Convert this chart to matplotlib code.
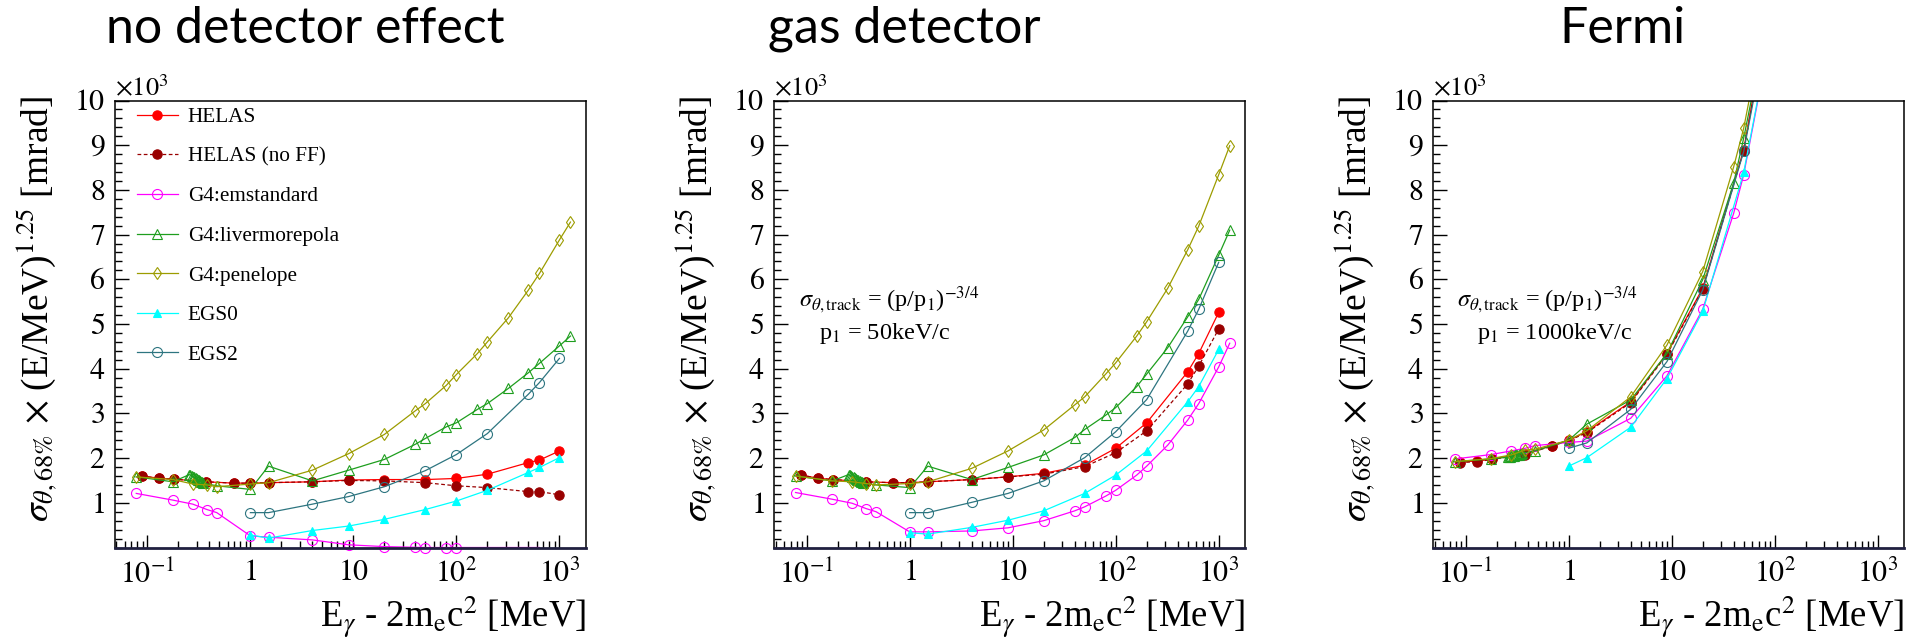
import matplotlib
matplotlib.use('Agg')
import matplotlib.pyplot as plt
import numpy as np
from matplotlib.lines import Line2D
from matplotlib.ticker import FixedLocator, FixedFormatter, LogLocator, MultipleLocator, NullFormatter

plt.rcParams['font.family'] = ['Liberation Serif', 'DejaVu Serif']
plt.rcParams['mathtext.fontset'] = 'stix'

# photon energy E_gamma - 2 m_e c^2 [MeV]
e_helas = [0.088, 0.129, 0.18, 0.373, 0.69, 1, 1.5, 4, 9, 20, 50, 100, 200, 500, 640, 1000]
e_g4 = [0.078, 0.177, 0.276, 0.378, 0.472, 1, 1.5, 4, 9, 20, 40, 50, 80, 100,
        160, 200, 320, 500, 640, 1000, 1280]
e_liv = [0.078, 0.177, 0.255, 0.262, 0.27, 0.278, 0.286, 0.294, 0.302, 0.31, 0.318, 0.326,
         0.334, 0.342, 0.35, 0.472, 1, 1.5, 4, 9, 20, 40, 50, 80, 100, 160, 200, 320, 500,
         640, 1000, 1280]
e_egs = [1, 1.5, 4, 9, 20, 50, 100, 200, 500, 640, 1000]

titles = ['no detector effect', 'gas detector', 'Fermi']
track_p1 = [None, '50keV/c', '1000keV/c']

# sigma_68% x (E/MeV)^1.25 in units of 10^3 mrad
# -- no detector effect
helas_1 = [1.60, 1.55, 1.53, 1.47, 1.44, 1.44, 1.45, 1.47, 1.51, 1.52, 1.52, 1.545, 1.64, 1.90, 1.955, 2.16]
noff_1 = [1.60, 1.55, 1.53, 1.47, 1.44, 1.44, 1.45, 1.47, 1.50, 1.49, 1.45, 1.38, 1.34, 1.25, 1.25, 1.18]
emstd_1 = [1.21, 1.06, 0.97, 0.85, 0.78, 0.26, 0.23, 0.17, 0.06, 0.02, 0.005, 0.0, 0.0, 0.0,
           -0.1, -0.2, -0.3, -0.4, -0.5]
liver_1 = [1.58, 1.47, 1.63, 1.62, 1.60, 1.58, 1.57, 1.55, 1.53, 1.52, 1.50, 1.49, 1.47, 1.46,
           1.44, 1.38, 1.30, 1.82, 1.49, 1.73, 1.97, 2.31, 2.44, 2.70, 2.79, 3.09, 3.22, 3.56,
           3.91, 4.12, 4.51, 4.73]
penel_1 = [1.58, 1.52, 1.42, 1.40, 1.36, 1.42, 1.45, 1.73, 2.10, 2.53, 3.06, 3.22, 3.63, 3.87,
           4.34, 4.60, 5.14, 5.76, 6.13, 6.88, 7.28]
egs0_1 = [0.28, 0.21, 0.38, 0.48, 0.63, 0.85, 1.04, 1.28, 1.68, 1.79, 2.01]
egs2_1 = [0.78, 0.78, 0.97, 1.14, 1.36, 1.72, 2.08, 2.55, 3.43, 3.69, 4.23]

# -- gas detector
helas_2 = [1.62, 1.55, 1.52, 1.47, 1.45, 1.45, 1.47, 1.52, 1.58, 1.66, 1.84, 2.22, 2.79, 3.93, 4.34, 5.26]
noff_2 = [1.62, 1.55, 1.52, 1.47, 1.45, 1.45, 1.47, 1.52, 1.58, 1.64, 1.81, 2.12, 2.61, 3.66, 4.06, 4.89]
emstd_2 = [1.23, 1.08, 0.99, 0.87, 0.80, 0.35, 0.35, 0.37, 0.44, 0.60, 0.82, 0.91, 1.15, 1.28,
           1.62, 1.82, 2.29, 2.85, 3.22, 4.04, 4.57]
liver_2 = [1.60, 1.49, 1.63, 1.62, 1.60, 1.58, 1.57, 1.55, 1.53, 1.52, 1.50, 1.49, 1.47, 1.46,
           1.44, 1.40, 1.34, 1.82, 1.52, 1.79, 2.07, 2.46, 2.64, 2.96, 3.13, 3.60, 3.88, 4.47,
           5.16, 5.55, 6.54, 7.10]
penel_2 = [1.60, 1.49, 1.47, 1.43, 1.40, 1.43, 1.47, 1.77, 2.16, 2.63, 3.19, 3.37, 3.88, 4.13,
           4.73, 5.05, 5.80, 6.66, 7.19, 8.34, 8.99]
egs0_2 = [0.33, 0.30, 0.45, 0.61, 0.82, 1.21, 1.62, 2.16, 3.26, 3.60, 4.43]
egs2_2 = [0.78, 0.78, 1.01, 1.21, 1.49, 2.01, 2.59, 3.31, 4.84, 5.33, 6.38]

# -- Fermi
helas_3 = [1.92, 1.93, 1.98, 2.10, 2.28, 2.40, 2.59, 3.26, 4.34, 5.80, 8.90, 12.8]
noff_3 = [1.90, 1.92, 1.97, 2.08, 2.27, 2.39, 2.57, 3.24, 4.32, 5.78, 8.88, 12.7]
emstd_3 = [1.98, 2.08, 2.16, 2.22, 2.28, 2.35, 2.38, 2.89, 3.84, 5.33, 7.48, 8.34, 10.8, 12.0]
liver_3 = [1.92, 1.98, 2.02, 2.03, 2.03, 2.04, 2.05, 2.05, 2.06, 2.07, 2.08, 2.08, 2.09, 2.10,
           2.11, 2.16, 2.40, 2.76, 3.30, 4.34, 5.99, 8.16, 9.16, 11.5, 12.8]
penel_3 = [1.92, 1.99, 2.07, 2.18, 2.20, 2.40, 2.61, 3.37, 4.53, 6.17, 8.52, 9.38, 11.8, 13.2]
egs0_3 = [1.82, 2.01, 2.69, 3.78, 5.28, 8.39, 12.0]
egs2_3 = [2.22, 2.34, 3.09, 4.16, 5.76, 8.86, 12.5]

styles = [
    ('HELAS', dict(color='#ff0000', marker='o', ms=6.7, mfc='#ff0000', ls='-')),
    ('HELAS (no FF)', dict(color='#990000', marker='o', ms=6.7, mfc='#990000', ls=(0, (3, 2)))),
    ('G4:emstandard', dict(color='#ff00ff', marker='o', ms=7.2, mfc='none', ls='-')),
    ('G4:livermorepola', dict(color='#1e9e1e', marker='^', ms=7.5, mfc='none', ls='-')),
    ('G4:penelope', dict(color='#9c9c00', marker='d', ms=6.5, mfc='none', ls='-')),
    ('EGS0', dict(color='#00ffff', marker='^', ms=6.0, mfc='#00ffff', ls='-')),
    ('EGS2', dict(color='#2d7580', marker='o', ms=7.2, mfc='none', ls='-')),
]
energies = [e_helas, e_helas, e_g4, e_liv, e_g4, e_egs, e_egs]
panels = [
    [helas_1, noff_1, emstd_1, liver_1, penel_1, egs0_1, egs2_1],
    [helas_2, noff_2, emstd_2, liver_2, penel_2, egs0_2, egs2_2],
    [helas_3, noff_3, emstd_3, liver_3, penel_3, egs0_3, egs2_3],
]

W, H = 1923, 641
fig = plt.figure(figsize=(W / 100, H / 100), dpi=100)

ax_left = [115, 774.3, 1433.3]
ax_w, ax_top, ax_bot = 470.7, 100.5, 547.5
title_x = [305, 904, 1623]

for k in range(3):
    ax = fig.add_axes([ax_left[k] / W, 1 - ax_bot / H, ax_w / W, (ax_bot - ax_top) / H])

    for (name, st), x, y in zip(styles, energies, panels[k]):
        y = np.array(y, dtype=float)
        x = np.array(x[:len(y)], dtype=float)
        ax.plot(x, np.clip(y, 0, None), color=st['color'], ls=st['ls'], lw=0.9)
        vis = (y >= 0) & (y <= 10)
        ax.plot(x[vis], y[vis], ls='none', marker=st['marker'], ms=st['ms'],
                mfc=st['mfc'], mec=st['color'], mew=0.8, clip_on=False)

    ax.set_xscale('log')
    ax.set_xlim(0.0485, 1800)
    ax.set_ylim(0, 10)
    ax.xaxis.set_major_locator(FixedLocator([0.1, 1, 10, 100, 1000]))
    ax.xaxis.set_major_formatter(FixedFormatter([r'$10^{-1}$', r'$1$', r'$10$', r'$10^{2}$', r'$10^{3}$']))
    ax.xaxis.set_minor_locator(LogLocator(base=10, subs=np.arange(2, 10), numticks=20))
    ax.xaxis.set_minor_formatter(NullFormatter())
    ax.yaxis.set_major_locator(FixedLocator(range(1, 11)))
    ax.yaxis.set_major_formatter(FixedFormatter([r'$%d$' % v for v in range(1, 11)]))
    ax.yaxis.set_minor_locator(MultipleLocator(0.2))
    ax.tick_params(which='both', direction='in', top=False, right=False, labelsize=21.5)
    ax.tick_params(axis='y', which='major', length=10, width=1, pad=7)
    ax.tick_params(axis='y', which='minor', length=5, width=1)
    ax.tick_params(axis='x', which='major', length=9.5, width=1, pad=9)
    ax.tick_params(axis='x', which='minor', length=5, width=1)
    for s in ax.spines.values():
        s.set_linewidth(1.1)
    ax.spines['bottom'].set_linewidth(2)
    ax.spines['bottom'].set_color('#202040')

    ax.text(0.0, 1.009, r'$\times10^{3}$', transform=ax.transAxes, ha='left', va='baseline', fontsize=19)
    ax.text(-0.168, 0.534, r'$\sigma_{\theta,68\%}$ $\times$ (E/MeV)$^{1.25}$ [mrad]',
            transform=ax.transAxes, rotation=90, ha='center', va='center', fontsize=27)
    ax.text(1.0, -0.18, r'E$_{\gamma}$ - 2m$_{\rm e}$c$^{2}$ [MeV]', transform=ax.transAxes,
            ha='right', va='baseline', fontsize=26.5)
    fig.text(title_x[k] / W, 1 - 43 / H, titles[k], ha='center', va='baseline',
             fontsize=36, family='Lato')

    if track_p1[k]:
        x0 = 10 ** -1.07 if k == 1 else 10 ** -1.08
        ax.text(x0, 5.39, r'$\sigma_{\theta,\mathrm{track}}$ = (p/p$_{1}$)$^{-3/4}$',
                va='baseline', ha='left', fontsize=17.5)
        ax.text(x0 * 10 ** 0.19, 4.66, r'p$_{1}$ = ' + track_p1[k],
                va='baseline', ha='left', fontsize=17.5)

    if k == 0:
        handles = [Line2D([], [], color=st['color'], ls=st['ls'], lw=0.9, marker=st['marker'],
                          ms=st['ms'], mfc=st['mfc'], mec=st['color'], mew=0.8, label=name)
                   for name, st in styles]
        ax.legend(handles=handles, loc='upper left', bbox_to_anchor=(0.046, 0.985),
                  frameon=False, fontsize=15.3, handlelength=1.95, handletextpad=0.45,
                  labelspacing=0.93, borderpad=0, borderaxespad=0)

fig.savefig('out.png', dpi=100)
